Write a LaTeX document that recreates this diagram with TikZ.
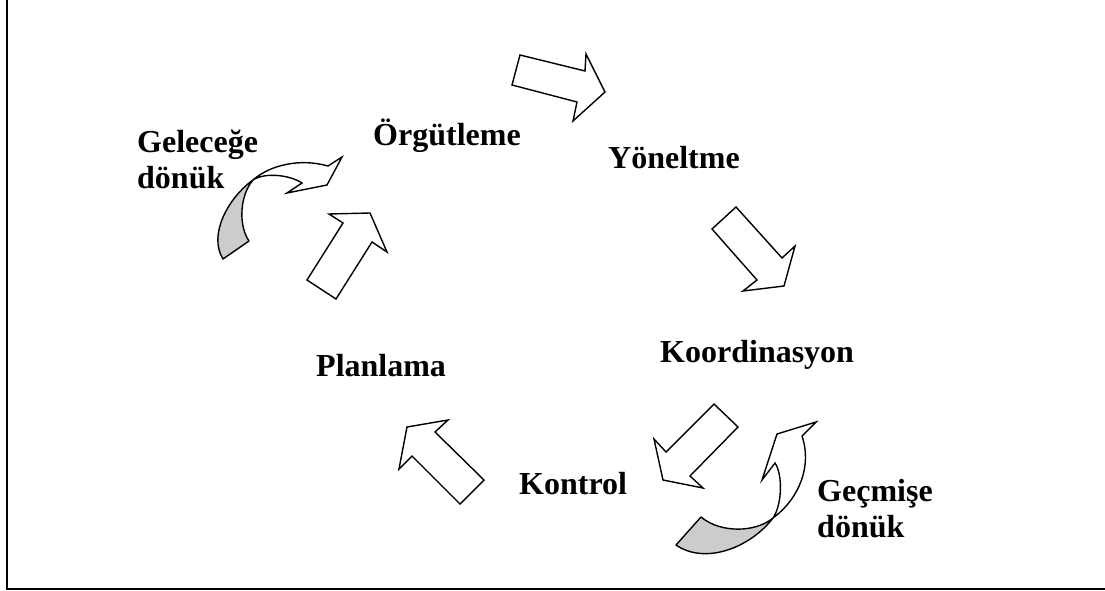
\documentclass[tikz,border=0pt]{standalone}
\usepackage{fontspec}
\setmainfont{Liberation Serif}
\definecolor{twist}{rgb}{0.8,0.8,0.8}

\begin{document}
\begin{tikzpicture}[x=1pt,y=-1pt,
	lbl/.style={font=\fontsize{32}{36}\selectfont\bfseries, inner sep=0pt, anchor=base west, align=left},
	blockarrow/.style={draw, fill=white, line width=1.4pt, line join=miter},
	backside/.style={draw, fill=twist, line width=1.4pt, line join=round}]
	\useasboundingbox (0,0) rectangle (1105,591);
	\draw[line width=2pt] (7,0) -- (7,589) -- (1105,589);
			\node[lbl] (org) at (373,146) {Örgütleme};
			\node[lbl] (yon) at (608,168) {Yöneltme};
			\node[lbl] (koo) at (660,362) {Koordinasyon};
			\node[lbl] (kon) at (519,494) {Kontrol};
			\node[lbl] (pla) at (316,376) {Planlama};
			\node[lbl] (gel) at (137,188) {Geleceğe\\dönük};
			\node[lbl] (gec) at (817,537) {Geçmişe\\dönük};
			\draw[blockarrow] (605,92) -- (573,121) -- (577,102) -- (512,85) -- (520,55) -- (585,71) -- (586,54) -- cycle;
			\draw[blockarrow] (736,207) -- (782,258) -- (795,246) -- (784,286) -- (743,291) -- (757,280) -- (712,229) -- cycle;
			\draw[blockarrow] (714,404) -- (738,427) -- (690,476) -- (703,488) -- (663,480) -- (654,439) -- (666,452) -- cycle;
			\draw[blockarrow] (448,420) -- (407,427) -- (399,469) -- (412,456) -- (460,504) -- (484,480) -- (435,432) -- cycle;
			\draw[blockarrow] (370,213) -- (387,252) -- (372,242) -- (336,299) -- (307,280) -- (343,223) -- (329,214) -- cycle;
			\draw[backside] (253,180) .. controls (228,198) and (208,235) .. (223,259) -- (249,241) .. controls (238,225) and (240,195) .. (253,180);
			\draw[blockarrow] (253,180) .. controls (270,165) and (300,158) .. (328,166) -- (342,157) -- (327,185) -- (287,193) -- (302,183) .. controls (290,175) and (265,172) .. (253,180);
			\draw[backside] (773,518) .. controls (750,548) and (705,565) .. (676,545) -- (701,517) .. controls (720,533) and (755,533) .. (773,518);
			\draw[blockarrow] (773,518) .. controls (800,498) and (812,465) .. (802,436) -- (816,422) -- (777,434) -- (762,480) -- (775,463) .. controls (783,475) and (782,505) .. (773,518);
\end{tikzpicture}
\end{document}
